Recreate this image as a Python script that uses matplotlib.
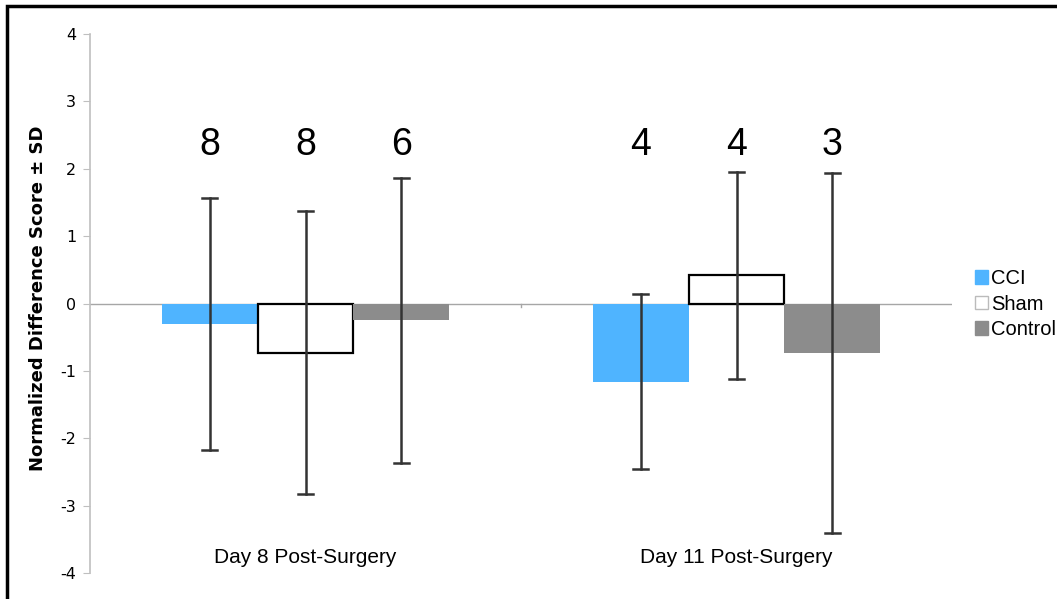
import matplotlib
matplotlib.use("Agg")
import matplotlib.pyplot as plt
from matplotlib.patches import Rectangle
import numpy as np

categories = ["Day 8 Post-Surgery", "Day 11 Post-Surgery"]
groups = ["CCI", "Sham", "Control"]
means = {
    "CCI": [-0.31, -1.17],
    "Sham": [-0.74, 0.42],
    "Control": [-0.24, -0.74],
}
err_top = {
    "CCI": [1.56, 0.14],
    "Sham": [1.38, 1.95],
    "Control": [1.87, 1.93],
}
err_bot = {
    "CCI": [-2.18, -2.46],
    "Sham": [-2.83, -1.12],
    "Control": [-2.36, -3.40],
}
n_labels = {
    "CCI": ["8", "4"],
    "Sham": ["8", "4"],
    "Control": ["6", "3"],
}
colors = {"CCI": "#4fb4ff", "Sham": "white", "Control": "#8c8c8c"}
edges = {"CCI": "#4fb4ff", "Sham": "black", "Control": "#8c8c8c"}

plt.rcParams['font.family'] = ['Liberation Sans', 'DejaVu Sans']

fig = plt.figure(figsize=(10.57, 5.99), dpi=100)
W, H = 1057, 599
ax = fig.add_axes([90 / W, 1 - 573 / H, (952 - 90) / W, (573 - 34) / H])

# Figure frame
fig.patches.append(Rectangle((7 / W, -0.05), 1.2, (H - 6) / H + 0.05, transform=fig.transFigure,
                             fill=False, edgecolor="black", linewidth=2.5))

x = np.arange(len(categories))
bw = 0.2225
for i, g in enumerate(groups):
    pos = x + (i - 1) * bw
    ax.bar(pos, means[g], width=bw, color=colors[g], edgecolor=edges[g],
           linewidth=1.6 if g == "Sham" else 0, zorder=2)
    for j, p in enumerate(pos):
        ax.plot([p, p], [err_bot[g][j], err_top[g][j]], color="#333333", lw=1.8, zorder=3)
        for yv in (err_bot[g][j], err_top[g][j]):
            ax.plot([p - 0.017, p + 0.017], [yv, yv], color="#333333", lw=1.8, zorder=3)
        ax.text(p, 2.35, n_labels[g][j], ha="center", va="center", fontsize=27, color="black")

ax.axhline(0, color="#a6a6a6", lw=1, zorder=1)
for xb in [0.5]:
    ax.plot([xb, xb], [0, -0.05], color="#a6a6a6", lw=1, zorder=1)

ax.set_xlim(-0.5, 1.5)
ax.set_ylim(-4, 4)
ax.set_yticks(range(-4, 5))
ax.set_yticklabels([str(v) for v in range(-4, 5)], fontsize=11.5, family="DejaVu Sans")
ax.set_xticks([])
for s in ["top", "right", "bottom"]:
    ax.spines[s].set_visible(False)
ax.spines["left"].set_color("#bfbfbf")
ax.spines["left"].set_linewidth(1.2)
ax.tick_params(axis="y", direction="out", length=5, color="#bfbfbf", pad=5)

for xi, c in zip(x, categories):
    ax.text(xi, -3.77, c, ha="center", va="center", fontsize=15)

fig.text(38 / W, 1 - 298 / H, "Normalized Difference Score ± SD", rotation=90,
         ha="center", va="center", fontsize=13, fontweight="bold", family="DejaVu Sans")

handles = [Rectangle((0, 0), 1, 1, facecolor=colors[g], edgecolor="#bbbbbb" if g == "Sham" else colors[g])
           for g in groups]
fig.legend(handles, groups, loc="center left", bbox_to_anchor=(967 / W, 1 - 304 / H),
           frameon=False, fontsize=14.5, handlelength=0.65, handleheight=0.65,
           handletextpad=0.15, labelspacing=0.32, borderaxespad=0)

fig.savefig("out.png", dpi=100)
